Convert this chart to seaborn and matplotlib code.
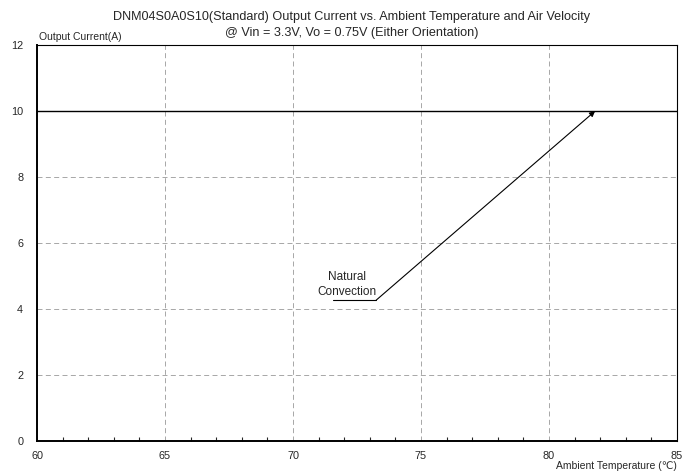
import matplotlib
matplotlib.use("Agg")
import matplotlib.pyplot as plt
import seaborn as sns
import pandas as pd
from matplotlib.ticker import MultipleLocator

# Data
temps = [60, 85]
current = [10, 10]
arrow_tip = (81.8, 10)
label_anchor = (73.25, 4.27)
underline_start = 71.55
label_lines = ["Natural", "Convection"]
label_x = 72.1
label_y = [4.97, 4.52]

df = pd.DataFrame({"temp": temps, "current": current})

sns.set_style("white")
plt.rcParams["font.family"] = ["Liberation Sans", "DejaVu Sans"]

fig, ax = plt.subplots(figsize=(6.99, 4.75), dpi=100)
fig.subplots_adjust(left=0.053, right=0.9685, top=0.905, bottom=0.0716)

sns.lineplot(data=df, x="temp", y="current", color="black", linewidth=1.0, ax=ax)

# Annotation: underline under the text, then arrow up to the curve
ax.plot([underline_start, label_anchor[0]], [label_anchor[1], label_anchor[1]],
        color="black", linewidth=0.8)
ax.annotate("", xy=arrow_tip, xytext=label_anchor,
            arrowprops=dict(arrowstyle="-|>", color="black", lw=0.8,
                            mutation_scale=8, shrinkA=0, shrinkB=0))
for line, y in zip(label_lines, label_y):
    ax.text(label_x, y, line, ha="center", va="center", fontsize=8.5)

ax.set_xlim(60, 85)
ax.set_ylim(0, 12)
ax.xaxis.set_major_locator(MultipleLocator(5))
ax.xaxis.set_minor_locator(MultipleLocator(1))
ax.yaxis.set_major_locator(MultipleLocator(2))
ax.grid(True, which="major", linestyle=(0, (6, 4)), color="#999999", linewidth=0.6)
ax.tick_params(axis="x", which="minor", direction="in", length=3, width=0.8,
               bottom=True, top=False)
ax.tick_params(axis="x", which="major", direction="in", length=0, labelsize=7.8, pad=7)
ax.tick_params(axis="y", which="major", length=0, labelsize=7.8, pad=10)

for side in ["left", "bottom"]:
    ax.spines[side].set_linewidth(1.4)
for side in ["top", "right"]:
    ax.spines[side].set_linewidth(0.8)
for s in ax.spines.values():
    s.set_color("black")

ax.set_xlabel("")
ax.set_ylabel("")
fig.text(0.056, 0.922, "Output Current(A)", fontsize=7.5, ha="left", va="center")
fig.text(0.9685, 0.018, "Ambient Temperature (\u2103)", fontsize=7.5, ha="right", va="center")
fig.text(0.503, 0.964,
         "DNM04S0A0S10(Standard) Output Current vs. Ambient Temperature and Air Velocity",
         fontsize=9.1, ha="center", va="center")
fig.text(0.503, 0.9305, "@ Vin = 3.3V, Vo = 0.75V (Either Orientation)",
         fontsize=9.1, ha="center", va="center")

fig.savefig("out.png", dpi=100)
